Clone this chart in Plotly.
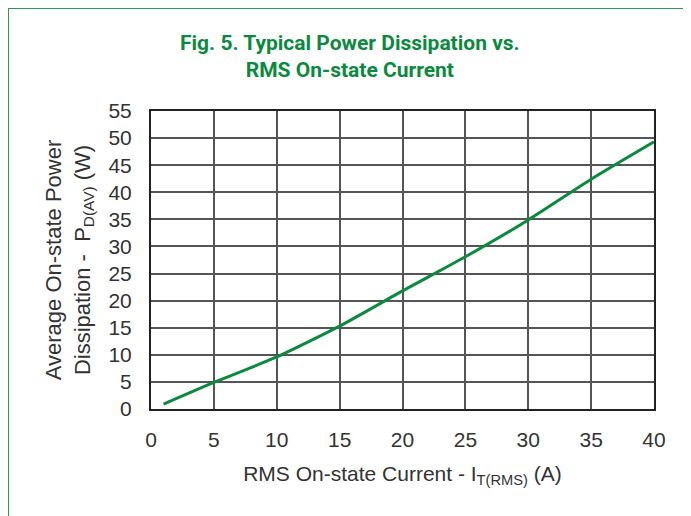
import plotly.graph_objects as go

current = [1, 5, 8, 10, 15, 20, 25, 30, 35, 40]
power = [0.9, 4.9, 7.7, 9.6, 15.3, 21.8, 28.1, 34.9, 42.4, 49.3]

x_ticks = [0, 5, 10, 15, 20, 25, 30, 35, 40]
y_ticks = [0, 5, 10, 15, 20, 25, 30, 35, 40, 45, 50, 55]

GREEN = "#0b8a3e"
OFF = 8  # page body margin
W, H = 691 - OFF, 516 - OFF
L, R, T, B = 151 - OFF, 654 - OFF, 111 - OFF, 409 - OFF

def px(x):
    return (x - OFF - L) / (R - L)

def py(y):
    return (B - (y - OFF)) / (B - T)

fig = go.Figure()
fig.add_trace(go.Scatter(x=current, y=power, mode="lines",
                         line=dict(color=GREEN, width=3, shape="spline", smoothing=0.6),
                         showlegend=False, hoverinfo="skip"))

FAM = "Liberation Sans, Arial, sans-serif"
tickfont = dict(family=FAM, size=21, color="#333333")
fig.update_xaxes(range=[0, 40], tickvals=x_ticks, showgrid=True, gridcolor="#555555", gridwidth=1.5,
                 showline=True, linecolor="#222222", linewidth=2, mirror=True, zeroline=False,
                 ticks="", tickfont=tickfont, ticklabelstandoff=11,
                 title=dict(text="RMS On-state Current - I<sub>T(RMS)</sub> (A)",
                            font=dict(family=FAM, size=21, color="#333333"), standoff=16))
fig.update_yaxes(range=[0, 55], tickvals=y_ticks, showgrid=True, gridcolor="#555555", gridwidth=1.5,
                 showline=True, linecolor="#222222", linewidth=2, mirror=True, zeroline=False,
                 ticks="", tickfont=tickfont, ticklabelstandoff=13,
                 title=dict(text="Average On-state Power<br>Dissipation -  P<sub>D(AV)</sub> (W)",
                            font=dict(family=FAM, size=22, color="#333333"), standoff=12))

fig.add_annotation(x=px(350), y=py(57), xref="paper", yref="paper", showarrow=False,
                   text="<b>Fig. 5. Typical Power Dissipation vs.<br>RMS On-state Current</b>",
                   font=dict(family="Roboto, Liberation Sans, sans-serif", size=21, color=GREEN),
                   xanchor="center", yanchor="middle", align="center")

fig.add_shape(type="line", xref="paper", yref="paper", x0=px(8), x1=px(700), y0=py(8), y1=py(8),
              line=dict(color="#2a9a52", width=2))
fig.add_shape(type="line", xref="paper", yref="paper", x0=px(8), x1=px(8), y0=py(8), y1=py(525),
              line=dict(color="#2a9a52", width=2))

fig.update_layout(width=W, height=H, margin=dict(l=L, r=W - R, t=T, b=H - B),
                  plot_bgcolor="white", paper_bgcolor="white")

fig.write_html("out.html")
